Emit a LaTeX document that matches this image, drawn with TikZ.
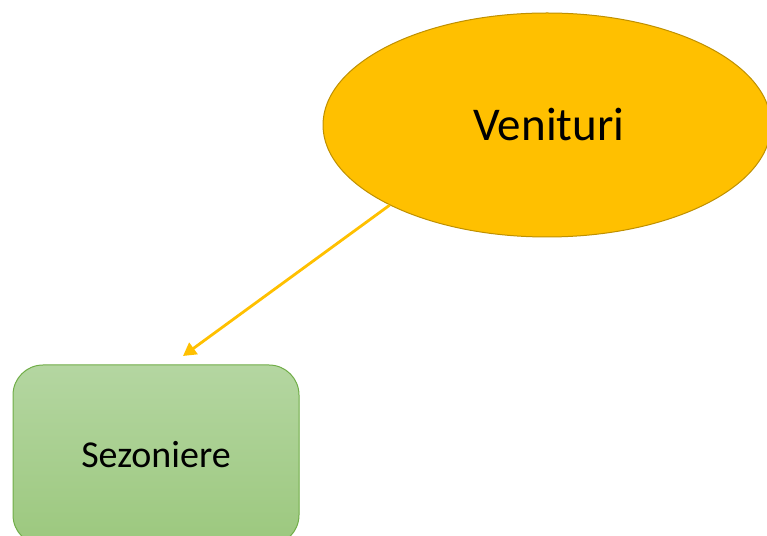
\documentclass[tikz,border=0pt]{standalone}
\usepackage{fontspec}
\setmainfont{Carlito}
\usetikzlibrary{shapes.geometric,arrows.meta}
\definecolor{gold}{HTML}{FFC000}
\definecolor{golddark}{HTML}{BF9000}
\definecolor{greentop}{HTML}{B4D6A1}
\definecolor{greenbot}{HTML}{9CC87E}
\definecolor{greenline}{HTML}{70AD47}
\tikzset{
  ovalnode/.style={ellipse, draw=golddark, fill=gold, line width=1pt, inner sep=0pt,
    minimum width=448pt, minimum height=224pt, font=\fontsize{47}{56}\selectfont},
  boxnode/.style={rectangle, rounded corners=30pt, draw=greenline, line width=1pt,
    top color=greentop, bottom color=greenbot, minimum width=286pt, minimum height=180pt,
    inner sep=0pt, font=\fontsize{38}{46}\selectfont},
  link/.style={draw=gold, line width=2.8pt, -{Triangle[length=13pt,width=14pt]}}
}
\begin{document}
\begin{tikzpicture}[x=1pt,y=1pt]
\useasboundingbox (0,0) rectangle (767,535);
\node[ovalnode] (ven) at (547,410) {\hspace*{4pt}Venituri};
\node[boxnode] (sez) at (156,80) {Sezoniere};
\coordinate (tip) at (183,179);
\draw[link] (ven.207) -- (tip);
\end{tikzpicture}
\end{document}
